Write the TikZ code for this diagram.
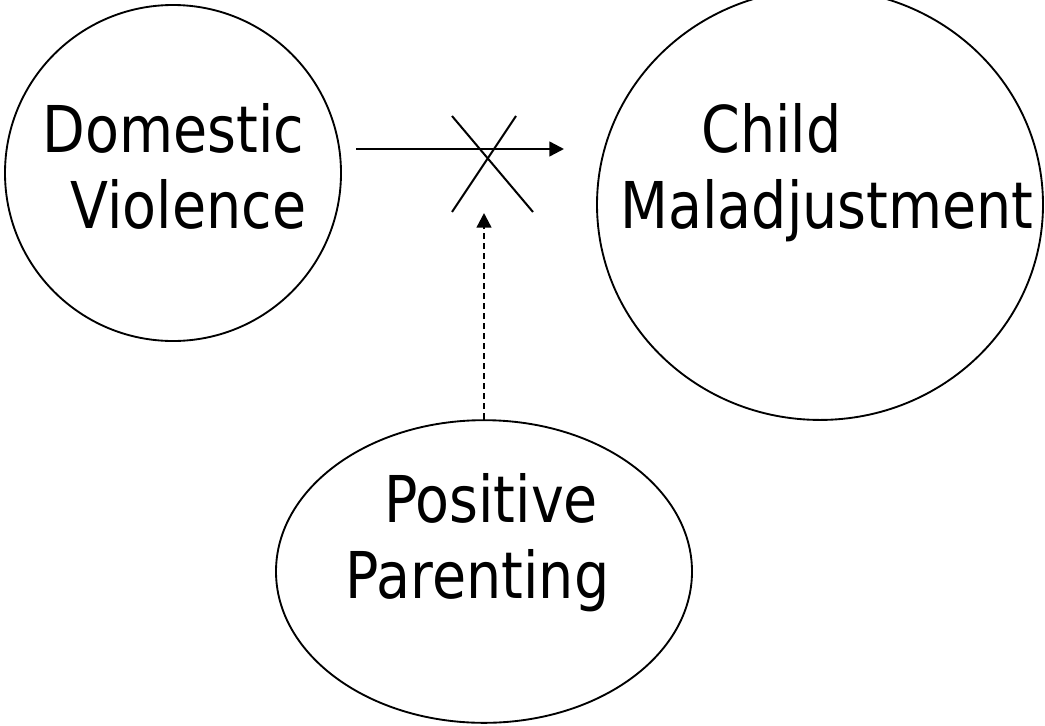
\documentclass[tikz,border=0pt]{standalone}
\usepackage{fontspec}
\setmainfont[FakeStretch=0.86]{DejaVu Sans}
\usetikzlibrary{arrows.meta,shapes.geometric}
\begin{document}
\begin{tikzpicture}[x=0.75pt,y=-0.75pt,
  bubble/.style={draw,ellipse,line width=1.4pt,inner sep=0pt},
  lbl/.style={anchor=base,inner sep=0pt,font=\fontsize{48.4}{58}\selectfont},
  conn/.style={line width=1.8pt,-{Triangle[length=11pt,width=11pt]}},
  crossline/.style={line width=1.5pt}]
\useasboundingbox (0,0) rectangle (1045,725);
\node[bubble,minimum width=252pt,minimum height=252pt] (dv) at (173,173) {};
\node[bubble,minimum width=334.5pt,minimum height=323pt] (cm) at (820,204.6) {};
\node[bubble,minimum width=312pt,minimum height=227pt] (pp) at (484,571.5) {};
\node[lbl] (dv1) at (173.5,152) {Domestic};
\node[lbl] (dv2) at (188.5,228) {Violence};
\node[lbl] (cm1) at (771.5,152) {Child};
\node[lbl] (cm2) at (827,228) {Maladjustment};
\node[lbl] (pp1) at (491,522) {Positive};
\node[lbl] (pp2) at (477.5,598) {Parenting};
\coordinate (a1) at (356,149);
\coordinate (a2) at (564,149);
\coordinate (m1) at (484,213);
\draw[conn] (a1) -- (a2);
\draw[conn,dash pattern=on 4.5pt off 3pt] (pp.north) -- (m1);
\draw[crossline] (452,116) -- (533,212);
\draw[crossline] (516,116) -- (452,212);
\end{tikzpicture}
\end{document}
